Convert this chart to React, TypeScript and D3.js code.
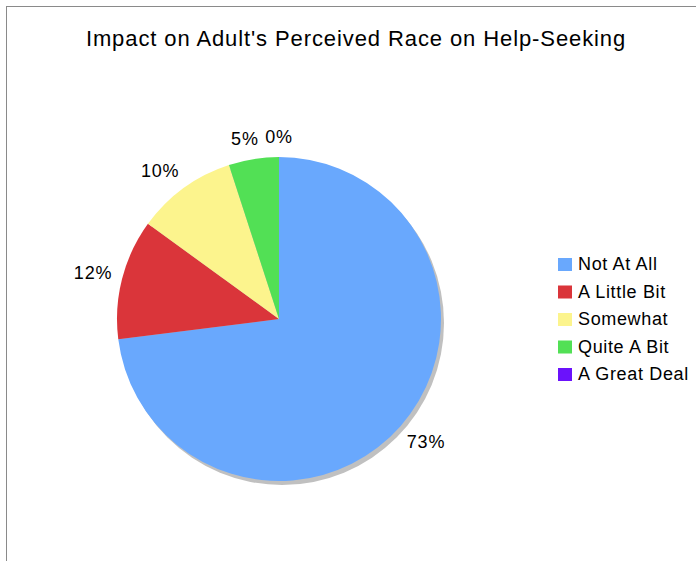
import React from "react";
import * as d3 from "d3";

const categories = ["Not At All", "A Little Bit", "Somewhat", "Quite A Bit", "A Great Deal"];
const values = [73, 12, 10, 5, 0];
const colors = ["#69a8fd", "#da353a", "#fcf48d", "#52e055", "#6b12fb"];
const title = "Impact on Adult's Perceived Race on Help-Seeking";

const W = 696;
const H = 561;
const cx = 279;
const cy = 319;
const R = 162;

export default function App() {
  const pie = d3.pie<number>().sort(null).value((d) => d);
  const arcs = pie(values);
  const arc = d3.arc<d3.PieArcDatum<number>>().innerRadius(0).outerRadius(R);
  const total = d3.sum(values);
  const font = "'Liberation Sans', Arial, Helvetica, sans-serif";
  const labelFs = 18;
  return (
    <svg width={W} height={H} style={{ position: "absolute", left: 0, top: 0, background: "#fff" }} fontFamily={font}>
      <line x1={6.5} y1={6} x2={6.5} y2={H} stroke="#8a8a8a" strokeWidth={1} />
      <line x1={6} y1={6.5} x2={W} y2={6.5} stroke="#8a8a8a" strokeWidth={1} />
      <text x={356} y={46} textAnchor="middle" fontSize={22} letterSpacing={0.9} fill="#000">{title}</text>
      <circle cx={cx + 3} cy={cy + 4} r={R} fill="#c0c0c0" />
      <g transform={`translate(${cx},${cy})`}>
        {arcs.map((a, i) => (
          <path key={i} d={arc(a) || ""} fill={colors[i]} />
        ))}
        {arcs.map((a, i) => {
          const mid = (a.startAngle + a.endAngle) / 2;
          const dx = Math.sin(mid);
          const dy = -Math.cos(mid);
          const pr = R + 12;
          const txt = `${Math.round((values[i] / total) * 100)}%`;
          const w = txt.length * 12;
          const h = 13;
          let bx = dx * pr + dx * w / 2;
          if (dx < -0.3 && dy < -0.3) bx -= 6;
          if (dx > 0.3) bx += 3;
          if (dx < -0.05 && dx > -0.3) bx -= 5;
          let by = dy * pr + dy * h / 2 - 2;
          if (dy > 0.3) by += 5;
          return (
            <text key={"l" + i} x={bx} y={by + h / 2} textAnchor="middle" fontSize={labelFs} letterSpacing={0.8} fill="#000">{txt}</text>
          );
        })}
      </g>
      <g>
        {categories.map((c, i) => (
          <g key={c} transform={`translate(558,${258 + i * 27.5})`}>
            <rect x={0} y={0} width={14} height={13} fill={colors[i]} />
            <text x={20} y={12} fontSize={18} letterSpacing={0.65} fill="#000">{c}</text>
          </g>
        ))}
      </g>
    </svg>
  );
}
